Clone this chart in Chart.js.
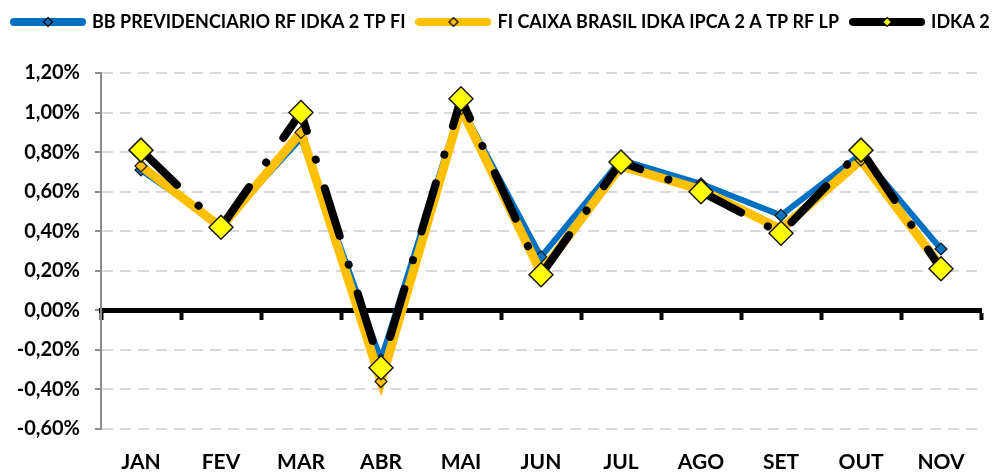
<!DOCTYPE html>
<html>
<head>
<meta charset="utf-8">
<script src="https://cdn.jsdelivr.net/npm/chart.js@4.4.0/dist/chart.umd.min.js"></script>
<style>
  html, body { margin: 0; padding: 0; background: #fff; }
  #wrap { position: relative; width: 1006px; height: 472px; }
</style>
</head>
<body>
<div id="wrap"><canvas id="chart"></canvas></div>
<script>
// monthly returns, in %
const MONTHS = ['JAN', 'FEV', 'MAR', 'ABR', 'MAI', 'JUN', 'JUL', 'AGO', 'SET', 'OUT', 'NOV'];
const BB_PREV = [0.71, 0.43, 0.87, -0.25, 1.03, 0.27, 0.76, 0.64, 0.48, 0.79, 0.31];
const FI_CAIXA = [0.73, 0.42, 0.90, -0.36, 1.02, 0.19, 0.73, 0.61, 0.41, 0.76, 0.22];
const IDKA2 = [0.81, 0.42, 1.00, -0.29, 1.07, 0.18, 0.75, 0.60, 0.39, 0.81, 0.21];
const Y_TICKS = [-0.6, -0.4, -0.2, 0, 0.2, 0.4, 0.6, 0.8, 1.0, 1.2];

const FONT = 'Lato, "Liberation Sans", sans-serif';

function legendSwatch(lineColor, fill, r) {
  const c = document.createElement('canvas');
  c.width = 76; c.height = 16;
  const g = c.getContext('2d');
  g.strokeStyle = lineColor;
  g.lineWidth = 8;
  g.lineCap = 'round';
  g.beginPath(); g.moveTo(4, 8); g.lineTo(72, 8); g.stroke();
  g.beginPath();
  g.moveTo(38, 8 - r); g.lineTo(38 + r, 8); g.lineTo(38, 8 + r); g.lineTo(38 - r, 8); g.closePath();
  g.fillStyle = fill; g.fill();
  g.lineWidth = 1.2; g.strokeStyle = '#000'; g.stroke();
  return c;
}

const SWATCHES = [
  legendSwatch('#0070C0', '#0070C0', 4.5),
  legendSwatch('#FFC000', '#FFC000', 4.5),
  legendSwatch('#000000', '#FFFF00', 4.5),
];

const pct = (v) => v.toFixed(2).replace('.', ',').replace('-0,00', '0,00') + '%';

// extra room between the legend and the plot
const legendGap = {
  id: 'legendGap',
  beforeInit(chart) {
    const fit = chart.legend.fit;
    chart.legend.fit = function () {
      fit.bind(chart.legend)();
      this.height += 32;
    };
  },
};

new Chart(document.getElementById('chart'), {
  type: 'line',
  data: {
    labels: MONTHS,
    datasets: [
      {
        label: 'BB PREVIDENCIARIO RF IDKA 2 TP FI',
        data: BB_PREV,
        order: 3,
        borderColor: '#0070C0',
        borderWidth: 6,
        pointStyle: 'rectRot',
        pointRadius: 6,
        pointBackgroundColor: '#0070C0',
        pointBorderColor: '#1a1a1a',
        pointBorderWidth: 1.2,
        tension: 0,
      },
      {
        label: 'FI CAIXA BRASIL IDKA IPCA 2 A TP RF LP',
        data: FI_CAIXA,
        order: 2,
        borderColor: '#FFC000',
        borderWidth: 9,
        pointStyle: 'rectRot',
        pointRadius: 6,
        pointBackgroundColor: '#FFC000',
        pointBorderColor: '#1a1a1a',
        pointBorderWidth: 1.2,
        tension: 0,
      },
      {
        label: 'IDKA 2',
        data: IDKA2,
        order: 1,
        borderColor: '#000000',
        borderWidth: 8,
        borderDash: [50, 30, 0.1, 30],
        borderCapStyle: 'round',
        pointStyle: 'rectRot',
        pointRadius: 12,
        pointBackgroundColor: '#FFFF00',
        pointBorderColor: '#1a1a1a',
        pointBorderWidth: 1.5,
        tension: 0,
      },
    ],
  },
  plugins: [legendGap],
  options: {
    responsive: true,
    maintainAspectRatio: false,
    animation: false,
    layout: { padding: 0 },
    plugins: {
      tooltip: { enabled: false },
      legend: {
        position: 'top',
        align: 'start',
        labels: {
          usePointStyle: true,
          pointStyleWidth: 70,
          padding: 13,
          color: '#000',
          font: { family: FONT, size: 18, weight: 'bold' },
          generateLabels: (chart) => chart.data.datasets.map((ds, i) => ({
            text: ds.label,
            pointStyle: SWATCHES[i],
            datasetIndex: i,
            fontColor: '#000',
            lineWidth: 0,
            strokeStyle: 'transparent',
            fillStyle: 'transparent',
          })),
        },
      },
    },
    scales: {
      x: {
        type: 'category',
        offset: true,
        grid: { display: false, drawTicks: false },
        border: { display: false },
        ticks: {
          color: '#000',
          padding: 21,
          font: { family: FONT, size: 21, weight: 'bold' },
        },
        afterFit: (s) => { s.height = 43; },
      },
      x2: {
        type: 'category',
        labels: MONTHS,
        offset: true,
        position: { y: 0 },
        grid: { offset: true, drawOnChartArea: false, drawTicks: true, tickLength: 7, tickWidth: 4, tickColor: '#000' },
        border: { display: true, color: '#000', width: 5 },
        ticks: { display: false },
      },
      y: {
        min: -0.6,
        max: 1.2,
        afterBuildTicks: (s) => { s.ticks = Y_TICKS.map((v) => ({ value: v })); },
        grid: {
          color: (ctx) => (Math.abs(ctx.tick.value) < 1e-9 ? 'rgba(0,0,0,0)' : '#d9d9d9'),
          lineWidth: 2,
          tickLength: 6,
          tickColor: '#8c8c8c',
        },
        border: { display: true, color: '#8c8c8c', width: 2, dash: [11, 7] },
        ticks: {
          color: '#000',
          padding: 15,
          font: { family: FONT, size: 20, weight: 'bold' },
          callback: (v) => pct(v),
        },
        afterFit: (s) => { s.width = 101; },
      },
      // empty right-hand axis, only to keep the margin on the right
      yRight: {
        position: 'right',
        min: -0.6,
        max: 1.2,
        grid: { drawOnChartArea: false, drawTicks: false },
        border: { display: false },
        ticks: { display: false },
        afterFit: (s) => { s.width = 25; },
      },
    },
  },
});
</script>
</body>
</html>
